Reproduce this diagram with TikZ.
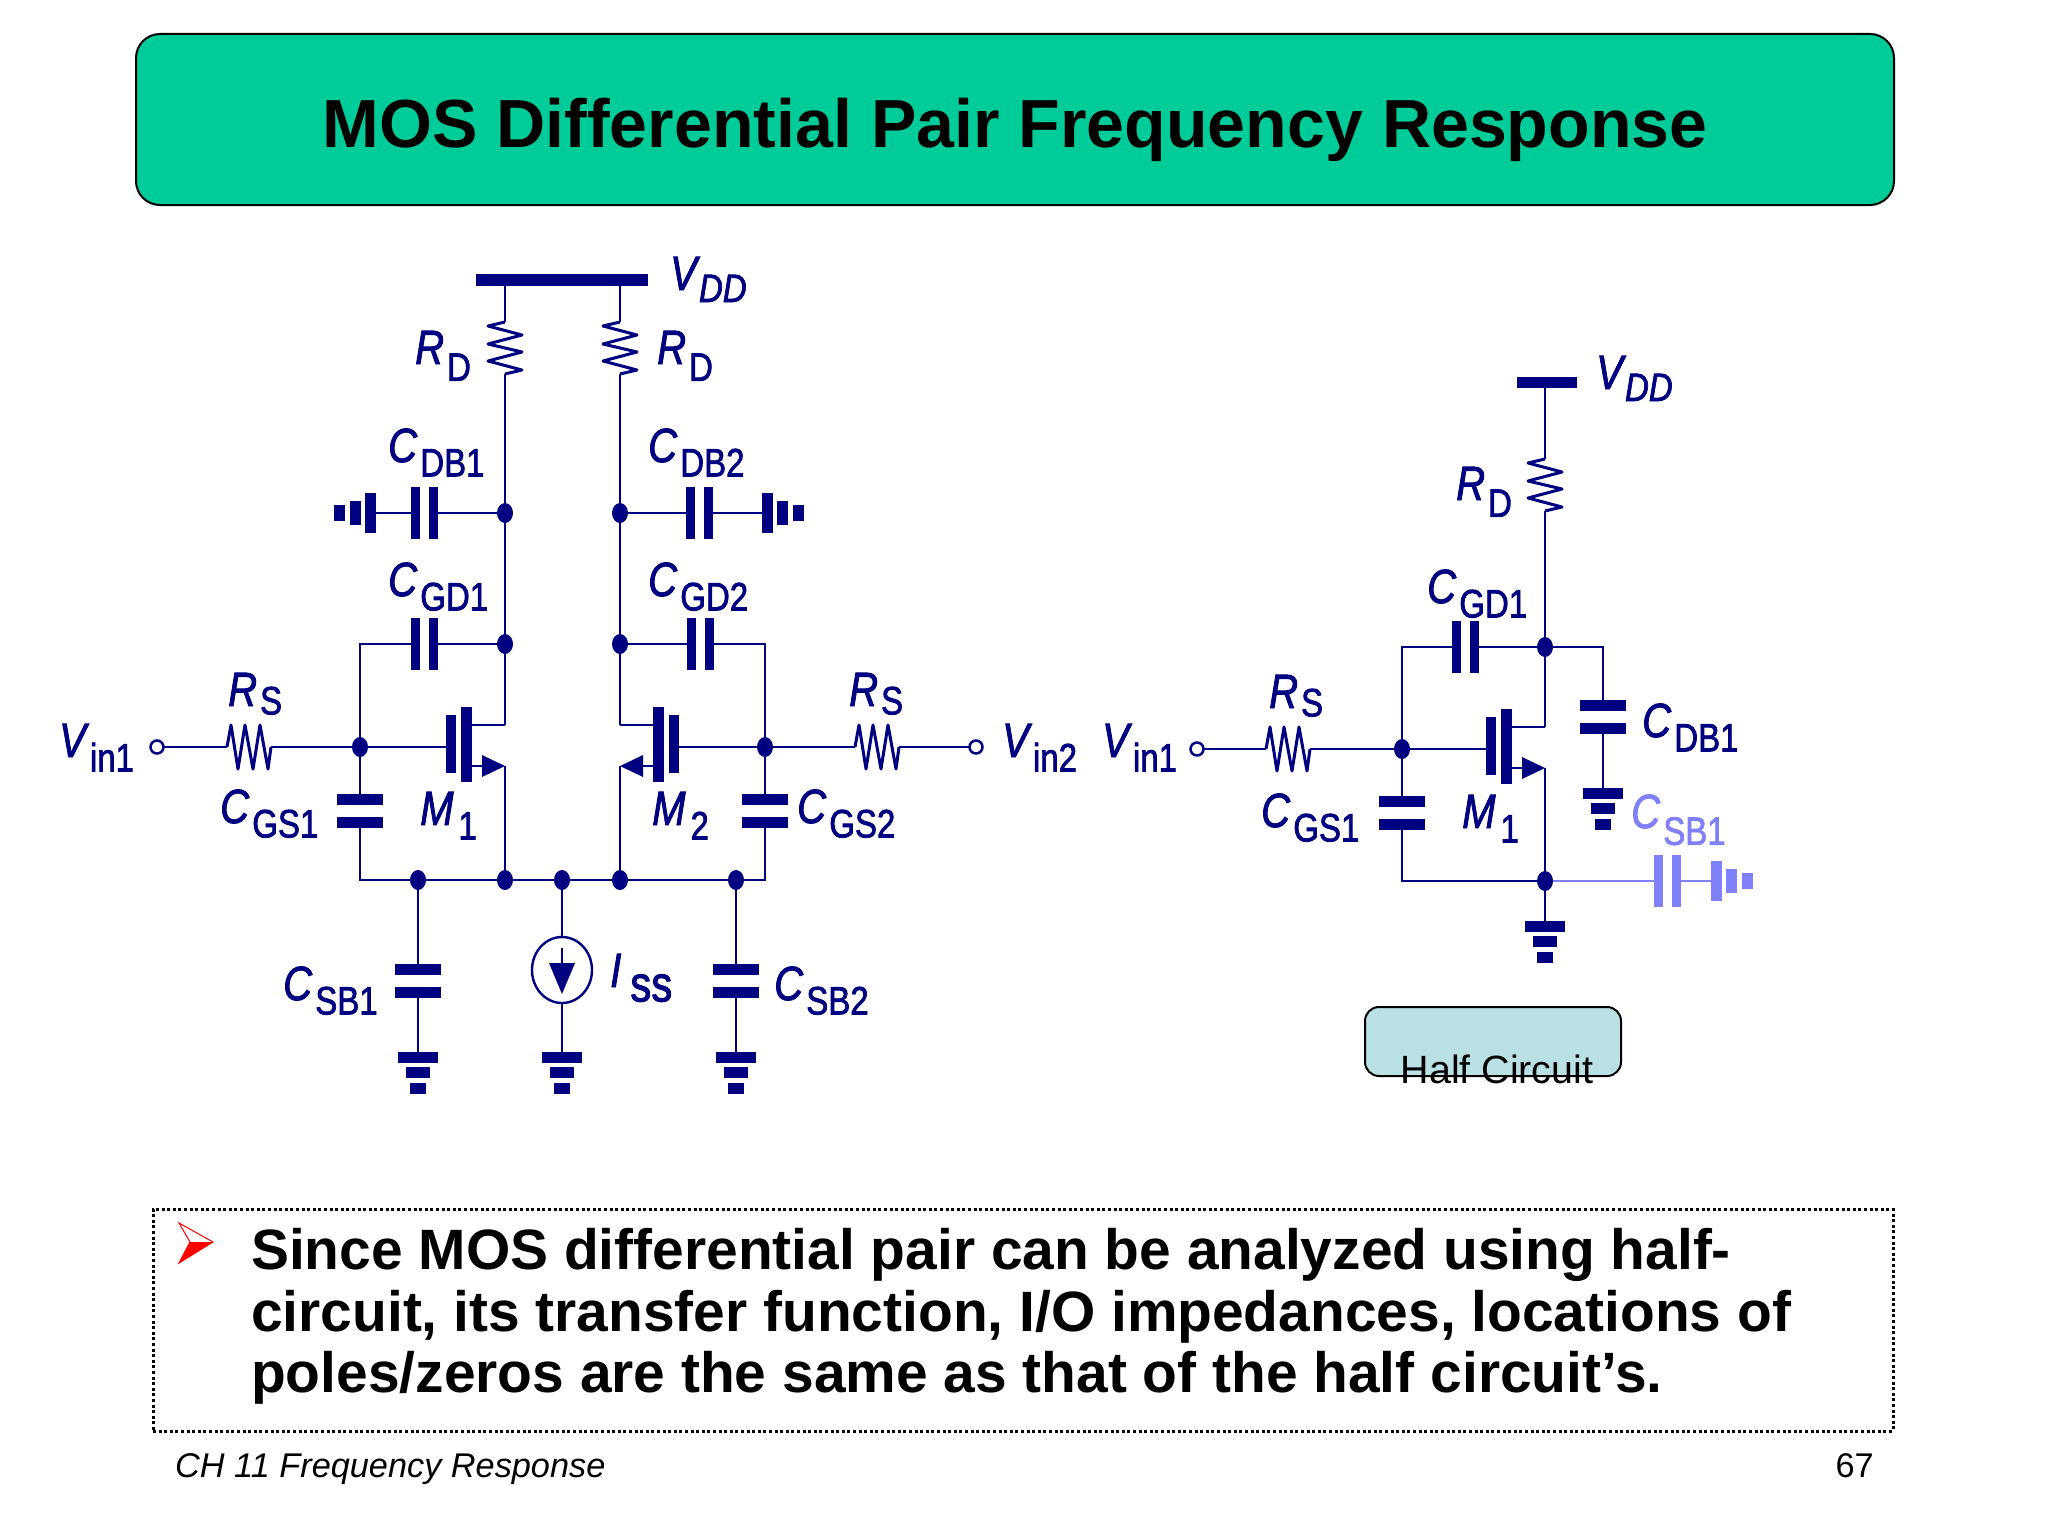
\documentclass[tikz,border=0pt]{standalone}
\usepackage{fontspec}
\setmainfont{Liberation Sans}
\newfontfamily\labfont[FakeBold=2]{Liberation Sans}
\usepackage{graphicx}
\usetikzlibrary{shapes.geometric}
\definecolor{cktnavy}{HTML}{000080}
\definecolor{cktlite}{HTML}{8080F8}
\definecolor{headgreen}{HTML}{00CC99}
\definecolor{halfbox}{HTML}{B9E0E2}
\colorlet{cktcol}{cktnavy}
\newcommand{\vlab}[3][12]{\scalebox{1}[1.2]{\labfont\fontsize{40}{40}\selectfont\textit{#2}\kern3pt\raisebox{-#1pt}{\fontsize{33}{33}\selectfont #3}}}
\tikzset{
    wire/.style={draw=cktcol,line width=2.5pt},
    lab/.style={anchor=base west,inner sep=0pt,text=cktcol},
    gndstack/.pic={
        \fill[cktcol] (-20,0) rectangle (20,11);
        \fill[cktcol] (-12,15) rectangle (12,26);
        \fill[cktcol] (-8,31) rectangle (8,42);
    },
    capflat/.pic={
        \fill[cktcol] (-23,-17) rectangle (23,-6);
        \fill[cktcol] (-23,6) rectangle (23,17);
        \coordinate (-a) at (0,-17);
        \coordinate (-b) at (0,17);
    },
    capbar/.pic={
        \fill[cktcol] (-13,-26) rectangle (-4,26);
        \fill[cktcol] (5,-26) rectangle (14,26);
        \coordinate (-a) at (-13,0);
        \coordinate (-b) at (14,0);
    },
    resup/.pic={
        \draw[wire,line width=3pt,line join=round] (0,-26) -- (-17,-22) -- (17,-13) -- (-17,-4) -- (17,4) -- (-17,13) -- (17,22) -- (0,26);
        \coordinate (-a) at (0,-26);
        \coordinate (-b) at (0,26);
    },
    resflat/.pic={
        \draw[wire,line width=3pt,line join=round] (-22,0) -- (-18,-22) -- (-11,22) -- (-4,-22) -- (4,22) -- (11,-22) -- (19,22) -- (22,0);
        \coordinate (-a) at (-22,0);
        \coordinate (-b) at (22,0);
    },
    fetpic/.pic={
        \fill[cktcol] (-59,-32) rectangle (-49,26);
        \fill[cktcol] (-44,-40) rectangle (-33,35);
        \draw[wire] (-33,-22) -- (0,-22);
        \draw[wire] (-33,19) -- (-18,19);
        \fill[cktcol] (0,19) -- (-23,8) -- (-23,30) -- cycle;
        \coordinate (-g) at (-59,0);
        \coordinate (-d) at (0,-22);
        \coordinate (-s) at (0,19);
    },
}
\begin{document}
\begin{tikzpicture}[x=1pt,y=-1pt]
    \useasboundingbox (0,0) rectangle (2048,1536);

    % slide frame
    \node[draw=black,line width=2pt,fill=headgreen,rounded corners=24pt,minimum width=1758pt,minimum height=171pt,inner sep=0pt] (head) at (1015,119.5) {};
    \node[font=\fontsize{68.1}{68.1}\selectfont\bfseries] (headtext) at (1015,130) {MOS Differential Pair Frequency Response};
    \node[draw=black,line width=3pt,dash pattern=on 3pt off 2.6pt,minimum width=1740pt,minimum height=222pt,inner sep=0pt] (note) at (1023,1320) {};
    \fill[red] (179,1263) -- (190,1242) -- (213,1242) -- cycle;
    \draw[red,line width=1pt,line join=miter] (179,1223) -- (213,1242) -- (179,1263) -- (190,1242) -- cycle;
    \node[anchor=north west,inner sep=0pt,align=left,font=\fontsize{56.9}{61.7}\selectfont\bfseries] (notetext) at (251,1228) {Since MOS differential pair can be analyzed using half-\\circuit, its transfer function, I/O impedances, locations of\\poles/zeros are the same as that of the half circuit’s.};
    \node[anchor=base west,inner sep=0pt,font=\fontsize{34.3}{34.3}\selectfont\itshape] (foot) at (175,1477) {CH 11 Frequency Response};
    \node[anchor=base east,inner sep=0pt,font=\fontsize{34.3}{34.3}\selectfont] (pageno) at (1874,1477) {67};

    % full differential pair
    \fill[cktcol] (476,274) rectangle (648,286);
    \node[lab] (vddl) at (670,290) {\vlab[10]{V}{\kern-4pt\textit{DD}}};
    \coordinate (dna) at (505,513);
    \coordinate (dnb) at (505,644);
    \coordinate (dnc) at (620,513);
    \coordinate (dnd) at (620,644);
    \coordinate (gna) at (360,747);
    \coordinate (gnb) at (765,747);
    \coordinate (sna) at (418,880);
    \coordinate (snb) at (505,880);
    \coordinate (snc) at (562,880);
    \coordinate (snd) at (620,880);
    \coordinate (sne) at (736,880);
    \coordinate (tla) at (157,747);
    \coordinate (tlb) at (976,747);

    \pic (rda) at (505,348) {resup};
    \pic (rdb) at (620,348) {resup};
    \pic (cdba) at (424,513) {capbar};
    \pic (cdbb) at (699,513) {capbar};
    \pic (cgda) at (424,644) {capbar};
    \pic (cgdb) at (700,644) {capbar};
    \pic (ma) at (505,747) {fetpic};
    \pic[xscale=-1] (mb) at (620,747) {fetpic};
    \pic (rsa) at (249,747) {resflat};
    \pic (rsb) at (877,747) {resflat};
    \pic (cgsa) at (360,811) {capflat};
    \pic (cgsb) at (765,811) {capflat};
    \pic (csba) at (418,981) {capflat};
    \pic (csbb) at (736,981) {capflat};
    \pic[rotate=-90] at (376,513) {gndstack};
    \pic[rotate=90] at (762,513) {gndstack};
    \pic at (418,1052) {gndstack};
    \pic at (562,1052) {gndstack};
    \pic at (736,1052) {gndstack};

    \draw[wire] (505,286) -- (rda-a);
    \draw[wire] (620,286) -- (rdb-a);
    \draw[wire] (rda-b) -- (dna) -- (dnb) -- (ma-d);
    \draw[wire] (rdb-b) -- (dnc) -- (dnd) -- (mb-d);
    \draw[wire] (376,513) -- (cdba-a);
    \draw[wire] (cdba-b) -- (dna);
    \draw[wire] (dnc) -- (cdbb-a);
    \draw[wire] (cdbb-b) -- (762,513);
    \draw[wire] (cgsa-a) -- (gna) -- (360,644) -- (cgda-a);
    \draw[wire] (cgda-b) -- (dnb);
    \draw[wire] (dnd) -- (cgdb-a);
    \draw[wire] (cgdb-b) -- (765,644) -- (gnb) -- (cgsb-a);
    \draw[wire] (tla) -- (rsa-a);
    \draw[wire] (rsa-b) -- (gna) -- (ma-g);
    \draw[wire] (mb-g) -- (gnb) -- (rsb-a);
    \draw[wire] (rsb-b) -- (tlb);
    \draw[wire] (cgsa-b) -- (360,880) -- (765,880) -- (cgsb-b);
    \draw[wire] (ma-s) -- (snb);
    \draw[wire] (mb-s) -- (snd);
    \draw[wire] (sna) -- (csba-a);
    \draw[wire] (csba-b) -- (418,1052);
    \draw[wire] (sne) -- (csbb-a);
    \draw[wire] (csbb-b) -- (736,1052);

    % current source
    \node[draw=cktcol,line width=2.4pt,ellipse,minimum width=60pt,minimum height=66pt,inner sep=0pt] (iss) at (562,970) {};
    \draw[wire] (snc) -- (iss.north);
    \draw[wire] (iss.south) -- (562,1052);
    \draw[wire] (562,948) -- (562,970);
    \fill[cktcol] (549,963) -- (575,963) -- (562,994) -- cycle;

    \foreach \jn in {dna,dnb,dnc,dnd,gna,gnb,sna,snb,snc,snd,sne}
        \fill[cktcol] (\jn) circle [x radius=8,y radius=10];
    \foreach \tm in {tla,tlb}
        \draw[wire,fill=white] (\tm) circle [radius=6.5];

    \node[lab] (rdal) at (415,364) {\vlab[14]{R}{D}};
    \node[lab] (rdbl) at (657,364) {\vlab[14]{R}{D}};
    \node[lab] (cdbal) at (388,462) {\vlab{C}{DB1}};
    \node[lab] (cdbbl) at (648,462) {\vlab{C}{DB2}};
    \node[lab] (cgdal) at (388,596) {\vlab{C}{GD1}};
    \node[lab] (cgdbl) at (648,596) {\vlab{C}{GD2}};
    \node[lab] (rsal) at (228,706) {\vlab[7]{R}{S}};
    \node[lab] (rsbl) at (849,706) {\vlab[7]{R}{S}};
    \node[lab] (vial) at (59,757) {\vlab{V}{\kern-2pt in1}};
    \node[lab] (vibl) at (1002,757) {\vlab{V}{\kern-2pt in2}};
    \node[lab] (cgsal) at (220,823) {\vlab{C}{GS1}};
    \node[lab] (cgsbl) at (797,823) {\vlab{C}{GS2}};
    \node[lab] (mal) at (420,825) {\vlab[12]{M}{\kern2pt 1}};
    \node[lab] (mbl) at (652,825) {\vlab[12]{M}{\kern2pt 2}};
    \node[lab] (csbal) at (283,1000) {\vlab{C}{SB1}};
    \node[lab] (csbbl) at (774,1000) {\vlab{C}{SB2}};
    \node[lab] (issl) at (610,987) {\vlab{I}{\kern6pt\fontsize{42}{42}\selectfont ss}};

    % half circuit
    \fill[cktcol] (1517,377) rectangle (1577,388);
    \node[lab] (vddh) at (1596,389) {\vlab[10]{V}{\kern-4pt\textit{DD}}};
    \coordinate (dnh) at (1545,647);
    \coordinate (gnh) at (1402,749);
    \coordinate (snh) at (1545,881);
    \coordinate (tlh) at (1197,749);
    \pic (rdh) at (1545,485) {resup};
    \pic (cgdh) at (1465,647) {capbar};
    \pic (mh) at (1545,749) {fetpic};
    \pic (rsh) at (1288,749) {resflat};
    \pic (cgsh) at (1402,813) {capflat};
    \pic (cdbh) at (1603,717) {capflat};
    \pic at (1603,788) {gndstack};
    \pic at (1545,921) {gndstack};

    \draw[wire] (1545,388) -- (rdh-a);
    \draw[wire] (rdh-b) -- (dnh) -- (mh-d);
    \draw[wire] (cgsh-a) -- (gnh) -- (1402,647) -- (cgdh-a);
    \draw[wire] (cgdh-b) -- (dnh) -- (1603,647) -- (cdbh-a);
    \draw[wire] (cdbh-b) -- (1603,788);
    \draw[wire] (tlh) -- (rsh-a);
    \draw[wire] (rsh-b) -- (gnh) -- (mh-g);
    \draw[wire] (cgsh-b) -- (1402,881) -- (snh);
    \draw[wire] (mh-s) -- (snh) -- (1545,921);
    \begin{scope}
        \colorlet{cktcol}{cktlite}
        \pic (csbh) at (1667,881) {capbar};
        \pic[rotate=90] at (1711,881) {gndstack};
        \draw[wire] (snh) -- (csbh-a);
        \draw[wire] (csbh-b) -- (1711,881);
        \node[lab] (csbhl) at (1631,828) {\vlab[14]{C}{SB1}};
    \end{scope}
    \fill[cktcol] (dnh) circle [x radius=8,y radius=10];
    \fill[cktcol] (gnh) circle [x radius=8,y radius=10];
    \fill[cktcol] (snh) circle [x radius=8,y radius=10];
    \draw[wire,fill=white] (tlh) circle [radius=6.5];

    \node[lab] (rdhl) at (1456,500) {\vlab[14]{R}{D}};
    \node[lab] (cgdhl) at (1427,603) {\vlab{C}{GD1}};
    \node[lab] (rshl) at (1269,708) {\vlab[7]{R}{S}};
    \node[lab] (vihl) at (1102,757) {\vlab{V}{\kern-2pt in1}};
    \node[lab] (cgshl) at (1261,827) {\vlab{C}{GS1}};
    \node[lab] (mhl) at (1462,828) {\vlab[12]{M}{\kern2pt 1}};
    \node[lab] (cdbhl) at (1642,737) {\vlab{C}{DB1}};

    \node[draw=black,line width=2pt,fill=halfbox,rounded corners=14pt,minimum width=256pt,minimum height=69pt,inner sep=0pt] (halfb) at (1493,1041.5) {};
    \node[font=\fontsize{39.4}{39.4}\selectfont,inner sep=0pt] (halft) at (1497,1069) {Half Circuit};
\end{tikzpicture}
\end{document}
